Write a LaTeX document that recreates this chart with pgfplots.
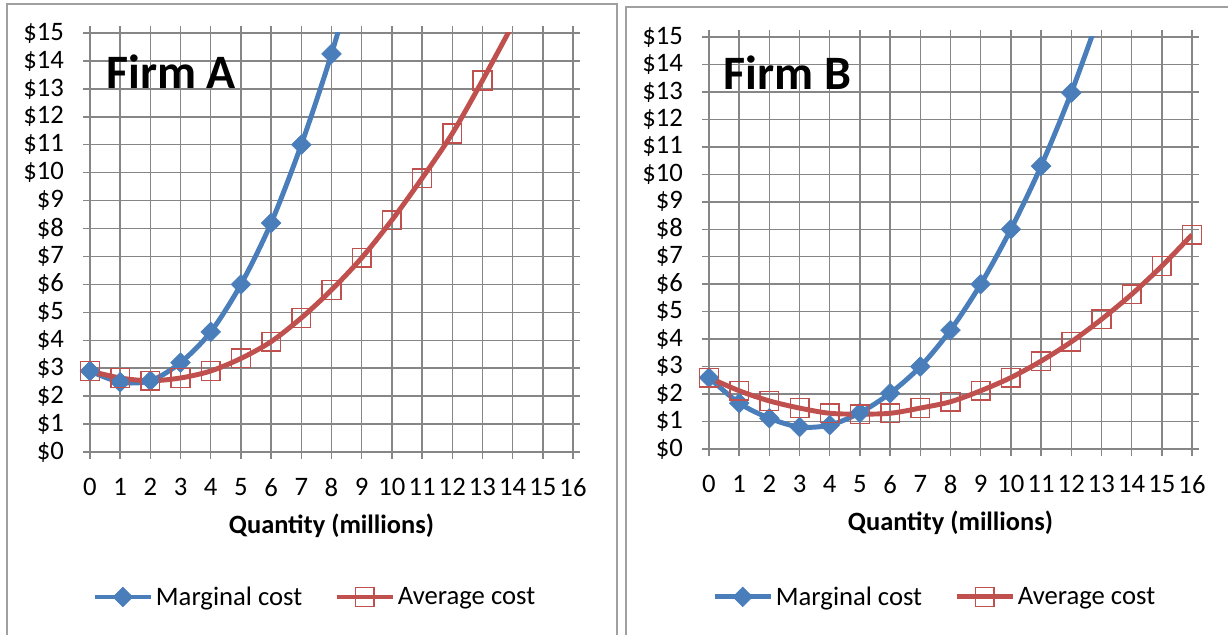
\documentclass[border=0pt]{standalone}
\usepackage{pgfplots}
\pgfplotsset{compat=1.18}
\usepackage{fontspec}
\setmainfont{Carlito}
\definecolor{mcblue}{RGB}{74,126,187}
\definecolor{acred}{RGB}{192,80,77}
\definecolor{gridgray}{RGB}{134,134,134}
\definecolor{framegray}{RGB}{160,160,160}

\pgfplotstableread{
q mc
0 2.9
1 2.5
2 2.55
3 3.2
4 4.3
5 6.0
6 8.2
7 11.0
8 14.25
9 18.0
}\mcA
\pgfplotstableread{
q ac
0 2.9
1 2.65
2 2.55
3 2.65
4 2.9
5 3.35
6 3.95
7 4.8
8 5.8
9 6.95
10 8.3
11 9.8
12 11.4
13 13.3
14 15.3
}\acA
\pgfplotstableread{
q mc
0 2.6
1 1.67
2 1.12
3 0.8
4 0.87
5 1.32
6 2.03
7 3.0
8 4.33
9 6.0
10 8.0
11 10.3
12 12.97
13 16.0
}\mcB
\pgfplotstableread{
q ac
0 2.6
1 2.12
2 1.75
3 1.49
4 1.3
5 1.27
6 1.3
7 1.49
8 1.72
9 2.12
10 2.6
11 3.2
12 3.9
13 4.72
14 5.63
15 6.66
16 7.8
}\acB

\pgfplotsset{
  firmaxis/.style={
    scale only axis,
    anchor=south west,
    width=362.25pt,
    xmin=0, xmax=16, ymin=0, ymax=15,
    xtick={0,...,16}, ytick={0,...,15},
    grid=major,
    grid style={gridgray, line width=1.1pt},
    axis line style={gridgray, line width=1.1pt},
    tick style={gridgray, line width=1.1pt},
    tick align=outside,
    major tick length=5pt,
    /pgf/number format/assume math mode=true,
    ticklabel style={font=\fontsize{20}{22}\selectfont},
    yticklabel={\$\pgfmathprintnumber{\tick}},
    yticklabel style={xshift=-11pt},
    xticklabel style={yshift=-11pt},
    xlabel={Quantity (millions)},
    xlabel style={font=\fontsize{19.8}{22}\selectfont\bfseries, yshift=-6pt},
    legend columns=2,
    legend style={draw=none, fill=none, font=\fontsize{20}{22}\selectfont,
      anchor=center,
      /tikz/every even column/.append style={column sep=22pt}},
    legend cell align=left,
    legend image code/.code={\draw[##1, mark indices={2}] plot coordinates {(0pt,0pt) (21pt,0pt) (42pt,0pt)};},
  },
  mcstyle/.style={color=mcblue, line width=3.7pt, smooth, mark=square*, mark options={rotate=45, fill=mcblue, line width=0.5pt}, mark size=5.2pt},
  acstyle/.style={color=acred, line width=3.7pt, smooth, mark=square, mark options={line width=1.1pt, solid}, mark size=7pt},
}

\begin{document}
\begin{tikzpicture}
\useasboundingbox (0pt,0pt) rectangle (921pt,476.25pt);
% panel frames
\draw[framegray, line width=1.2pt] (5.25pt,-8pt) -- (5.25pt,473.25pt) -- (462.75pt,473.25pt) -- (462.75pt,-8pt);
\draw[framegray, line width=1.2pt] (469.5pt,-8pt) -- (469.5pt,471pt) -- (930pt,471pt);

\begin{axis}[firmaxis, at={(67.5pt,137.25pt)}, height=314.25pt,
  legend style={at={(0.466,-0.346)}}]
\addplot[mcstyle, mark indices={1,...,9}] table[x=q, y=mc] {\mcA};
\addlegendentry{Marginal cost}
\addplot[acstyle, mark indices={1,...,14}] table[x=q, y=ac] {\acA};
\addlegendentry{Average cost}
\node[anchor=west, font=\fontsize{36}{40}\selectfont\bfseries] at (axis cs:0.38,13.6) {Firm A};
\end{axis}

\begin{axis}[firmaxis, at={(531.75pt,139.5pt)}, height=309pt,
  legend style={at={(0.468,-0.359)}}]
\addplot[mcstyle, mark indices={1,...,13}] table[x=q, y=mc] {\mcB};
\addlegendentry{Marginal cost}
\addplot[acstyle, mark indices={1,...,17}] table[x=q, y=ac] {\acB};
\addlegendentry{Average cost}
\node[anchor=west, font=\fontsize{36}{40}\selectfont\bfseries] at (axis cs:0.32,13.7) {Firm B};
\end{axis}
\end{tikzpicture}
\end{document}
